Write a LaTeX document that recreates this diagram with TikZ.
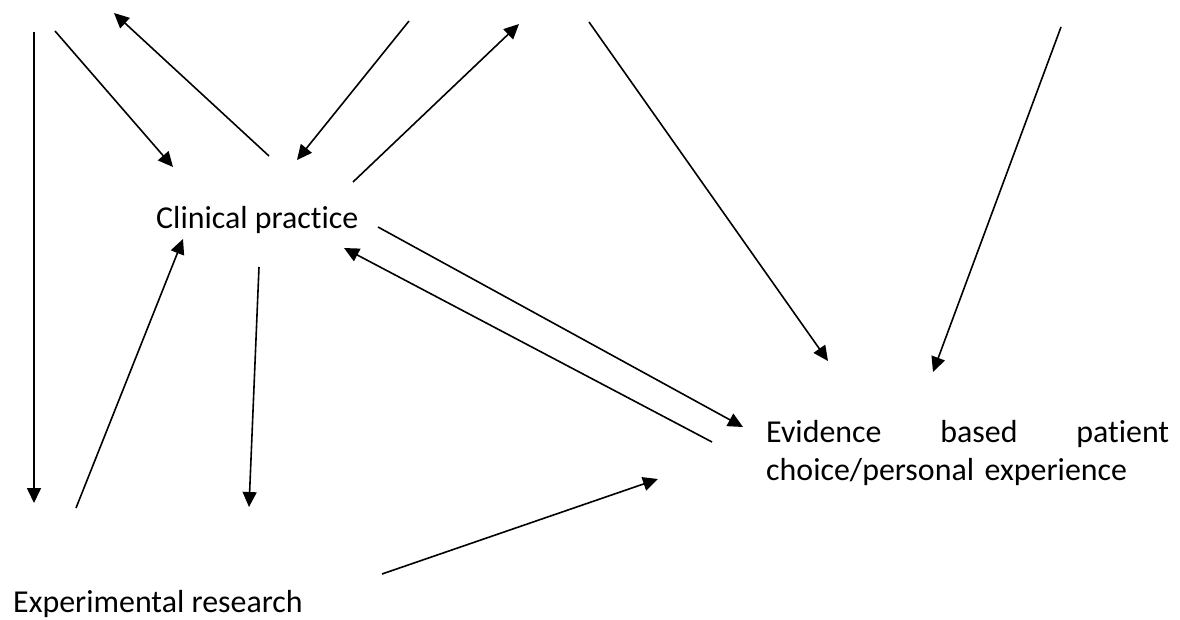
\documentclass[tikz,border=0pt]{standalone}
\usepackage{fontspec}
\setmainfont{Carlito}[Ligatures=NoCommon]
\usetikzlibrary{arrows.meta}
\begin{document}
\begin{tikzpicture}[x=1pt,y=-1pt,
  link/.style={line width=1.6pt, -{Triangle[length=15pt,width=14pt]}},
  txt/.style={inner sep=0pt, font=\fontsize{31.9}{38}\selectfont}]
\path[use as bounding box, fill=white] (0,0) rectangle (1180,619);

% labels
\node[txt, anchor=base west] (clin) at (156,228) {Clinical practice};
\node[txt, anchor=base west] (expr) at (13,612) {Experimental research};
\node[txt, anchor=base west, text width=403pt, align=left] (evid) at (766,442)
  {Evidence\hfill based\hfill patient\\choice/personal experience};

% free arrow ends
\coordinate (a1s) at (34,32);    \coordinate (a1e) at (34,503);
\coordinate (a2s) at (55,31);    \coordinate (a2e) at (173,167);
\coordinate (a3s) at (269,156);  \coordinate (a3e) at (114,13);
\coordinate (a4s) at (409,21);   \coordinate (a4e) at (297,160);
\coordinate (a5s) at (353,182);  \coordinate (a5e) at (519,24);
\coordinate (a6s) at (589,22);   \coordinate (a6e) at (828,361);
\coordinate (a7s) at (1061,27);  \coordinate (a7e) at (933,372);
\coordinate (a8s) at (378,227);  \coordinate (a8e) at (743,427);
\coordinate (a9s) at (712,442);  \coordinate (a9e) at (344,248);
\coordinate (a10s) at (76,508);  \coordinate (a10e) at (183,239);
\coordinate (a11s) at (259,267); \coordinate (a11e) at (249,507);
\coordinate (a12s) at (382,574); \coordinate (a12e) at (658,479);

% arrows
\foreach \i in {1,...,12}
  \draw[link] (a\i s) -- (a\i e);
\end{tikzpicture}
\end{document}
